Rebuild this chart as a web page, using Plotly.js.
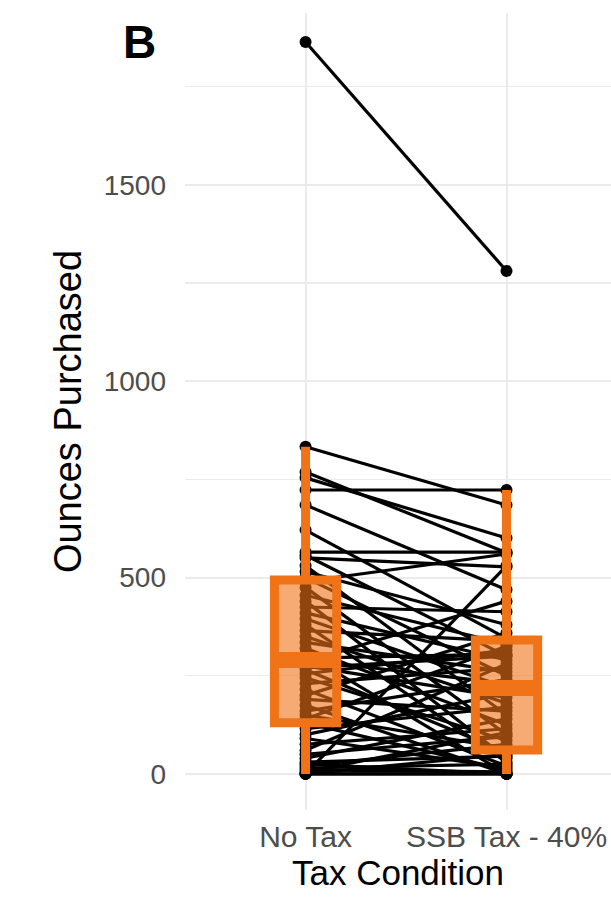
<!DOCTYPE html>
<html>
<head>
<meta charset="utf-8">
<script src="https://cdn.plot.ly/plotly-3.0.1.min.js"></script>
<style>html,body{margin:0;padding:0;background:#fff;}#chart{width:611px;height:897px;}</style>
</head>
<body>
<div id="chart"></div>
<script>
// Tax condition categories
const categories = ['No Tax', 'SSB Tax - 40%'];

// Paired ounces purchased per participant
const noTax = [1864, 833, 769, 754, 723, 685, 621, 565, 557, 550, 530, 515, 500, 490, 475, 455, 440, 425, 410, 395,
  380, 365, 350, 335, 320, 305, 295, 290, 285, 275, 265, 255, 245, 230, 215, 200, 190, 175, 160, 150,
  140, 130, 115, 100, 90, 75, 60, 50, 40, 30, 25, 20, 15, 10, 5, 0, 0, 0, 0, 270];
const ssbTax = [1281, 685, 563, 601, 723, 469, 345, 565, 300, 527, 150, 380, 250, 560, 100, 330, 40, 413, 290, 220,
  30, 338, 180, 260, 125, 0, 305, 230, 440, 195, 55, 315, 85, 270, 20, 359, 160, 0, 240, 65,
  325, 10, 170, 205, 15, 115, 280, 95, 140, 45, 0, 75, 25, 5, 105, 50, 0, 0, 530, 300];

// Box statistics
const boxQ1 = [130, 61];
const boxMedian = [290, 219];
const boxQ3 = [494, 341];
const boxLower = [0, 0];
const boxUpper = [833, 723];

const yTicks = [0, 500, 1000, 1500];

// Build paired line segments
const lx = [], ly = [];
for (let i = 0; i < noTax.length; i++) {
  lx.push(categories[0], categories[1], null);
  ly.push(noTax[i], ssbTax[i], null);
}

const orange = '#f07318';
const data = [
  {
    type: 'scatter', mode: 'lines+markers', x: lx, y: ly,
    line: {color: '#000', width: 3.2},
    marker: {color: '#000', size: 12},
    connectgaps: false, hoverinfo: 'skip', showlegend: false,
    xaxis: 'x', yaxis: 'y'
  },
  {
    type: 'box', x: categories,
    q1: boxQ1, median: boxMedian, q3: boxQ3,
    lowerfence: boxLower, upperfence: boxUpper,
    boxpoints: false, whiskerwidth: 0, width: 0.31,
    line: {color: orange, width: 9},
    fillcolor: 'rgba(240,115,24,0.6)',
    showlegend: false, hoverinfo: 'skip',
    xaxis: 'x2', yaxis: 'y2'
  },
  {
    // thicker median bar (drawn as a flat box at the median)
    type: 'box', x: categories,
    q1: boxMedian, median: boxMedian, q3: boxMedian,
    lowerfence: boxMedian, upperfence: boxMedian,
    boxpoints: false, whiskerwidth: 0, width: 0.31,
    line: {color: orange, width: 16},
    fillcolor: orange,
    showlegend: false, hoverinfo: 'skip',
    xaxis: 'x2', yaxis: 'y2'
  }
];

const yRange = [-92, 1938];
const xRange = [-0.6, 1.52];
const layout = {
  width: 611, height: 897,
  margin: {l: 185, r: 0, t: 13, b: 87},
  paper_bgcolor: '#fff', plot_bgcolor: '#fff',
  font: {family: 'Liberation Sans, Arial, sans-serif'},
  boxmode: 'overlay',
  xaxis: {
    type: 'category', categoryorder: 'array', categoryarray: categories,
    range: xRange, showgrid: true, gridcolor: '#ebebeb', gridwidth: 2,
    zeroline: false, showline: false, ticks: '', ticklabelstandoff: 6,
    tickfont: {size: 30, color: '#4d4d4d'},
    title: {text: 'Tax Condition', font: {size: 35, color: '#000'}, standoff: 4}
  },
  yaxis: {
    range: yRange, tickvals: yTicks, showgrid: true, gridcolor: '#ebebeb', gridwidth: 2,
    minor: {tickvals: [250, 750, 1250, 1750], showgrid: true, gridcolor: '#ebebeb', gridwidth: 1.3},
    zeroline: false, showline: false, ticks: '', ticklabelstandoff: 18,
    tickfont: {size: 28, color: '#4d4d4d'},
    title: {text: 'Ounces Purchased', font: {size: 38, color: '#000'}, standoff: 10}
  },
  xaxis2: {
    type: 'category', categoryorder: 'array', categoryarray: categories,
    range: xRange, overlaying: 'x', visible: false, showgrid: false
  },
  yaxis2: {range: yRange, overlaying: 'y', visible: false, showgrid: false},
  annotations: [{
    text: '<b>B</b>', xref: 'paper', yref: 'paper', x: -0.106, y: 0.964,
    xanchor: 'center', yanchor: 'middle', showarrow: false,
    font: {size: 46, color: '#000', family: 'Liberation Sans, Arial, sans-serif'}
  }]
};

Plotly.newPlot('chart', data, layout, {displayModeBar: false, staticPlot: true});
</script>
</body>
</html>
